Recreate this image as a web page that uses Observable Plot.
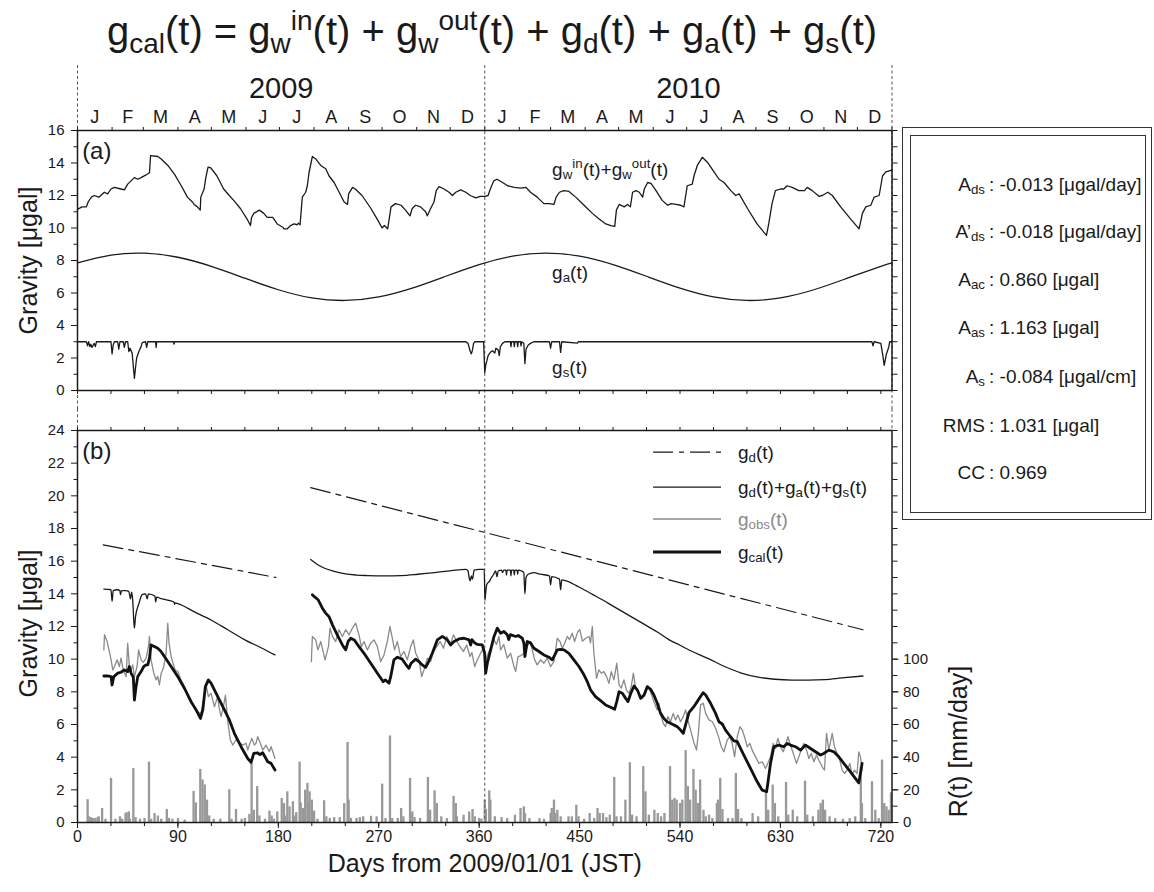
<!DOCTYPE html>
<html><head><meta charset="utf-8">
<script src="https://cdn.jsdelivr.net/npm/d3@7"></script>
<script src="https://cdn.jsdelivr.net/npm/@observablehq/plot@0.6"></script>
<style>
body{margin:0;background:#fff;}
#root{position:relative;width:1154px;height:892px;font-family:"Liberation Sans",Arial,Helvetica,sans-serif;color:#1a1a1a;overflow:hidden;background:#fff;}
#root svg{position:absolute;left:0;}
.abs{position:absolute;white-space:nowrap;line-height:1;}
.sb{font-size:0.7em;vertical-align:-0.3em;line-height:0;}
.sp{font-size:0.7em;vertical-align:0.55em;line-height:0;}
</style></head><body><div id="root"></div>
<script>
// ---------------- DATA ----------------
const monthStarts = [0,31,59,90,120,151,181,212,243,273,304,334,365,396,424,455,485,516,546,577,608,638,669,699,730];
const monthLetters = ["J","F","M","A","M","J","J","A","S","O","N","D","J","F","M","A","M","J","J","A","S","O","N","D"];
const yearLabels = ["2009","2010"];
const yearMid = [182.5, 547.5];
const yearBounds = [0, 365, 730];

// Panel (a): g_w^in + g_w^out  [day, µgal]
const gwSeries = [[0,11.15],[4,11.3],[8,11.3],[9.5,11.6],[12.5,11.9],[15,12.0],[19,11.9],[21,12.0],[24,12.2],[27,12.1],[30,12.4],[33,12.5],[39,12.4],[42,12.35],[45,12.7],[48,12.9],[51,13.1],[54,13.0],[57,13.1],[61,13.25],[64.5,13.4],[65.5,14.45],[72,14.4],[75,14.25],[81,13.85],[87,13.3],[93,12.6],[98.5,11.9],[103,11.6],[104.5,11.45],[107.5,11.3],[110,11.1],[110.5,11.9],[113.5,12.4],[115,13.1],[117,13.75],[119.5,13.7],[125,13.2],[131,12.4],[136,12.0],[140,11.7],[146,11.2],[152,10.55],[155,10.15],[156,10.65],[158,10.9],[163,11.1],[167,10.9],[170,10.65],[175,10.65],[179,10.25],[184,10.05],[185,9.95],[188,9.95],[191,10.15],[194,10.25],[197,10.2],[198,10.3],[199.5,10.2],[200,10.65],[201.5,11.9],[204.5,12.2],[206,12.6],[207.5,13.4],[210.5,14.4],[213.5,14.25],[218,13.85],[222.5,13.65],[225.5,13.2],[230,12.8],[234.5,12.2],[239,11.6],[242,11.45],[243,12.1],[246.5,12.5],[249,12.4],[255,12.0],[263,11.2],[269,10.5],[273,10.0],[275,10.15],[278,9.95],[281,11.3],[285,11.5],[290,11.4],[294,11.1],[298,10.75],[300,11.2],[303,11.4],[307.5,11.3],[312,11.0],[313.5,10.75],[316.5,11.2],[319.5,11.6],[321.5,12.3],[324,12.55],[328.5,12.4],[333,12.2],[336,12.0],[339,12.2],[343.5,12.35],[348,12.2],[352,12.0],[357,11.85],[361,11.95],[365,11.95],[368,12.0],[370,12.4],[373,12.9],[376,13.0],[381,12.8],[385.5,12.6],[391.5,12.5],[397.5,12.45],[402,12.5],[406,12.2],[412,11.9],[418,11.5],[423,11.5],[427,11.45],[429,11.9],[432,12.2],[436,12.3],[440.5,12.25],[446.5,11.9],[454,11.4],[461.5,10.9],[467.5,10.55],[473.5,10.25],[478,10.15],[481.5,10.1],[483,11.1],[485.5,11.45],[490,11.3],[493,11.45],[495.5,11.3],[497.5,12.2],[500.5,12.3],[503.5,12.2],[506.5,11.9],[508,12.4],[511,12.8],[514,12.75],[518.5,12.3],[524,11.7],[529,11.4],[532,11.5],[536.5,11.45],[540.5,11.4],[543.5,11.3],[546.5,12.6],[551,12.7],[552.5,13.2],[555.5,13.85],[560,14.35],[564.5,14.05],[570.5,13.45],[575,13.0],[579.5,12.8],[585.5,12.3],[590,12.0],[593,12.1],[600.5,11.2],[609,10.25],[617.5,9.55],[619.5,10.25],[622.5,11.5],[625.5,12.3],[630,12.4],[633,12.4],[636,12.6],[640.5,12.5],[646.5,12.3],[651.5,12.3],[654,12.5],[658.5,12.3],[664.5,11.95],[667.5,12.0],[672.5,12.2],[676.5,12.0],[684,11.3],[693,10.55],[700.5,9.95],[703.5,10.9],[706.5,11.3],[711,11.4],[714,11.9],[718.5,12.0],[721.5,13.2],[724.5,13.45],[729,13.55],[730,13.6]];

// Panel (a): g_a(t)
const gaDays = [0,30,60,90,120,150,180,210,240,270,300,330,360,390,420,450,480,510,540,570,600,630,660,690,720,730];
const gaVals = [7.85,8.33,8.45,8.20,7.64,6.91,6.20,5.70,5.54,5.76,6.30,7.03,7.75,8.27,8.46,8.27,7.75,7.03,6.30,5.76,5.54,5.70,6.20,6.91,7.64,7.85];

// Panel (a): g_s(t)
const gsSeries = [[0,3],[8,3],[9,2.75],[10,3],[11,2.7],[12,2.85],[13,2.65],[15,2.9],[16,2.7],[17,3],[30,3],[31,2.25],[32,2.8],[33,3],[36,3],[37,2.55],[38,3],[41,3],[42,2.65],[43,3],[45,3],[46,2.4],[47,2.6],[49,2.3],[50,1.5],[51,0.75],[52,1.4],[53,2.0],[55,2.4],[57,2.7],[58,2.95],[61,3],[62,2.65],[63,3],[70,3],[70.5,2.65],[71,3],[86,3],[86.5,2.85],[87,3],[348,3],[350,2.9],[352,2.4],[353,2.25],[354,2.5],[355,2.9],[356,3],[364,3],[365,1.1],[366,1.6],[367,1.85],[368,2.15],[370,2.35],[372,2.45],[374,2.3],[375,2.6],[377,2.5],[378,2.15],[379,2.7],[381,2.9],[383,3],[388,3],[388.5,2.7],[389,3],[391,3],[391.5,2.7],[392,3],[394,3],[394.5,2.7],[395,3],[397,3],[397.5,2.75],[398,3],[400,2.9],[401,1.65],[402,2.55],[404,2.8],[406,2.9],[409,3],[423,3],[424,2.6],[425,3],[432,3],[433,2.35],[434,3],[448,2.92],[449,3],[712,3],[713,2.75],[714,3],[720,2.9],[722,2.05],[723,1.55],[724,1.9],[725,2.25],[727,2.65],[728,3],[730,3]];

// Panel (b): g_d(t), two segments
const gd1 = [[23,17.0],[178,15.0]];
const gd2 = [[209,20.5],[704,11.8]];

// Panel (b): g_d + g_a + g_s
const gdas1 = [[23.6,14.29],[30,14.25],[31,13.54],[32,14.2],[35.5,14.25],[38,14.2],[38.5,13.95],[39.5,14.2],[43,14.2],[46,14.15],[47.5,13.7],[48.5,14.1],[49.5,13.6],[50.5,12.3],[51,11.9],[52,12.6],[55,13.4],[58,13.95],[61,14.0],[62.5,13.7],[63.5,14.0],[69.5,13.85],[70,13.5],[71,13.8],[75,13.7],[86.5,13.5],[87,13.35],[87.5,13.45],[90,13.4],[104.8,12.9],[119.7,12.4],[134.7,11.8],[149.6,11.2],[164.5,10.7],[177,10.26]];
const gdas2 = [[209,16.1],[215,15.8],[222,15.55],[230,15.38],[240,15.22],[250,15.15],[260,15.12],[275,15.1],[290,15.12],[305,15.2],[320,15.3],[335,15.42],[348,15.5],[350,15.4],[351,15.0],[352,14.8],[353,15.1],[354,14.9],[355.5,15.45],[360,15.5],[364.5,15.5],[365.2,13.6],[366,14.2],[367,14.6],[369,14.75],[371,15.0],[373,15.2],[374.7,15.4],[376,15.05],[377,15.4],[380,15.45],[381,15.3],[382,15.45],[384,15.45],[384.5,15.15],[385,15.45],[388,15.45],[388.5,15.1],[389,15.45],[391,15.45],[391.5,15.15],[392,15.45],[394,15.45],[394.5,15.2],[395,15.45],[398,15.4],[400,15.3],[401,14.0],[402,15.0],[404,15.2],[409,15.3],[415,15.2],[423,15.1],[424,14.55],[425,15.05],[432,14.9],[433,14.25],[434,14.85],[440,14.75],[447,14.5],[454,14.25],[462,13.95],[470,13.65],[480,13.25],[490,12.85],[500,12.45],[510,12.05],[520,11.65],[530,11.2],[540,10.85],[550,10.5],[565,10.05],[580,9.55],[595,9.15],[610,8.9],[625,8.77],[640,8.72],[655,8.72],[670,8.75],[685,8.85],[704,8.97]];

// Panel (b): g_obs(t)
const gObs1 = [[23.6,10.57],[24.2,11.5],[26.5,11.1],[28.6,10.45],[30.1,9.96],[31.6,9.34],[33.5,9.6],[35.5,9.96],[37.5,9.55],[39,10.06],[41,9.34],[43.6,8.93],[45,10.98],[46.5,9.55],[48,9.34],[49.5,9.65],[51,8.93],[53.4,9.55],[54.8,10.57],[57,9.96],[59,9.8],[61.5,10.06],[63.6,10.77],[64.5,11.4],[65.9,9.96],[68.4,9.14],[70.4,8.73],[71.9,8.95],[73.4,8.42],[75,9.14],[77,9.44],[79.4,10.36],[80.9,12.2],[82,11.0],[83.9,10.16],[85.4,9.8],[87.5,9.34],[89.9,9.24],[92.8,8.73],[95.8,8.32],[98.8,7.71],[101.8,7.3],[104.8,7.09],[106.3,6.9],[109.3,6.68],[111.3,6.8],[113,7.5],[115.2,8.42],[117.3,7.71],[119.7,7.91],[122.7,7.09],[125.7,7.71],[127,7.0],[128.7,6.48],[130.8,7.09],[132.6,7.8],[134.7,6.17],[137,5.05],[139.1,4.74],[142,5.05],[145,4.9],[148,4.74],[151,4.85],[152.6,4.43],[154,4.74],[156.2,5.15],[158.5,4.74],[160,4.85],[161.5,5.25],[163.9,4.85],[166,4.43],[169,4.74],[171.9,4.33],[173.5,4.64],[175,4.33],[177,3.92]];
const gObs2 = [[209.6,9.85],[210.5,11.39],[213.5,11.18],[215.5,10.57],[218,11.08],[221.9,9.96],[224.9,10.77],[226.3,11.9],[228.5,11.39],[231.4,11.08],[234.4,11.8],[237.4,11.39],[240.4,11.8],[243.4,11.49],[246.4,11.9],[249.3,12.2],[252.3,11.49],[254.4,10.77],[256.8,11.08],[259.8,10.57],[262.8,10.98],[265.8,11.18],[268.8,10.77],[271.7,9.85],[274.7,10.26],[277.7,11.08],[280,12.0],[282.2,11.28],[284.2,10.57],[286.7,11.08],[289.6,10.16],[292.6,10.47],[295.6,9.96],[298.6,10.77],[301,11.18],[303.1,10.36],[306,9.96],[308.5,8.93],[310.5,9.34],[313.6,10.06],[316.5,9.85],[319,10.47],[322,10.77],[325,11.08],[328,10.67],[331,11.39],[334,10.87],[337,11.49],[340,11.08],[342.8,10.77],[345.8,10.47],[348.8,10.87],[351.8,10.16],[353.5,10.4],[356,9.55],[358.4,9.96],[361.3,10.36],[364.3,10.77],[365.8,9.96],[368.8,10.47],[370.3,10.67],[373.3,11.18],[375.5,10.9],[377.7,11.39],[379.2,10.57],[382,10.9],[385.2,10.06],[388.2,10.36],[391.2,9.55],[392.7,9.24],[394.8,10.16],[397,10.2],[400.1,10.36],[403.1,10.77],[405.5,11.08],[407.6,10.57],[409.7,9.96],[412,9.65],[415,9.96],[418,9.75],[421,10.06],[424,9.55],[427,9.85],[430,11.28],[432.4,11.08],[434.5,10.67],[436.6,10.98],[439,11.39],[441,11.2],[443.4,11.59],[445.5,11.08],[448.5,11.7],[450.3,11.8],[452.5,11.1],[455.4,11.28],[458.4,11.39],[459.8,11.0],[461.4,12.0],[462.8,10.36],[465.2,8.83],[467.3,9.34],[469.4,9.14],[471.8,9.24],[474.2,8.93],[476.3,8.52],[478.4,9.24],[480.8,8.73],[483.3,9.75],[485.4,8.42],[487.3,8.22],[489.7,8.73],[492,8.11],[494.2,7.91],[496.3,8.32],[498.2,9.14],[500.2,8.22],[503.2,7.91],[506.2,7.6],[509.1,7.91],[511.2,8.32],[513.6,8.01],[516.6,7.4],[519.6,6.89],[521.1,7.3],[523.2,6.48],[525,6.07],[527,5.87],[529.1,6.48],[531.5,6.17],[533.9,6.68],[536,6.28],[538.1,6.58],[540.5,6.17],[542.9,6.48],[545,6.89],[547,6.28],[549.5,5.66],[552.4,4.9],[554.8,4.43],[556.5,5.5],[558.4,7.2],[560.8,7.3],[563,6.68],[566,6.28],[569,6.17],[572,5.76],[575,5.15],[577,4.64],[579.3,4.33],[582.3,5.05],[584.7,5.25],[586.8,4.84],[588.9,4.02],[591.3,5.25],[593.7,5.87],[595.8,5.66],[597.8,5.25],[600.3,4.64],[602.6,4.84],[604.7,4.43],[607.7,4.02],[610.7,3.62],[613.7,3.72],[616.6,3.31],[618.7,3.62],[621.1,4.02],[623.5,4.84],[625.6,4.53],[627.7,5.15],[630.1,4.64],[632.5,4.33],[634.6,4.74],[636.7,5.25],[639,4.74],[642,4.13],[644.4,3.62],[646.5,4.02],[648.6,4.43],[651,4.84],[653.4,4.43],[655.5,3.92],[657.6,4.23],[660,3.72],[662.4,4.13],[664.4,3.82],[667.4,3.41],[669.5,3.21],[671.3,5.46],[673.4,4.43],[676.4,5.46],[678.4,4.64],[680.8,4.23],[683.2,3.82],[685.3,3.21],[687.4,3.0],[689.8,3.21],[692.2,3.62],[694.2,2.9],[696.3,3.21],[698.7,3.0],[700.2,4.33],[701.7,4.02],[703.2,3.21]];

// Panel (b): g_cal(t)
const gCal1 = [[23.6,8.97],[27,8.97],[30.1,8.93],[31,8.42],[32.5,8.93],[36,9.14],[39,9.2],[42,9.34],[45,9.24],[46.5,9.55],[48,9.14],[50,8.9],[51,7.5],[52.5,8.32],[54,8.93],[57,9.24],[59.4,9.55],[61.5,9.65],[63,9.65],[64.5,10.06],[65.9,10.87],[68.9,10.77],[71.9,10.67],[74.9,10.47],[77.9,10.16],[83.9,9.55],[89.9,8.93],[95.8,8.22],[101.8,7.4],[106.3,6.89],[110.2,6.37],[112.3,6.89],[114.6,8.32],[117.3,8.73],[119.7,8.53],[125.7,7.71],[131.7,6.89],[136.1,6.28],[140.6,5.46],[146.6,4.64],[152.6,3.92],[155.6,3.68],[158,4.23],[161.5,4.27],[163.5,4.15],[166,4.27],[170.5,3.72],[173.5,3.62],[177,3.21]];
const gCal2 = [[210.5,13.94],[212,13.84],[215.6,13.64],[219.5,13.12],[222.4,12.82],[225.5,12.6],[228.5,12.1],[231.4,11.69],[234.4,11.28],[237.4,10.87],[240.4,10.57],[242.5,11.08],[245,11.28],[248,11.18],[252.3,10.77],[256.8,10.36],[262.8,9.75],[268.8,9.14],[274,8.62],[276,8.73],[279.2,8.53],[280.7,8.93],[283.6,9.96],[286.7,10.12],[291,10.0],[294,9.7],[297,9.44],[299,9.75],[303.1,10.0],[306,9.85],[309,9.65],[312,9.5],[314,9.75],[318,10.36],[322.5,11.18],[327,11.39],[331.5,11.18],[334.4,10.87],[337.4,11.08],[341.9,11.24],[346.4,11.28],[350.9,11.18],[352.4,10.87],[353.5,11.2],[356,11.0],[358.4,10.9],[362.8,10.87],[364.9,10.36],[365.8,9.14],[367.3,9.75],[370.3,10.57],[373.3,11.39],[376.2,11.9],[379.2,11.59],[382.2,11.7],[385.2,11.49],[386.5,11.2],[388,11.5],[392.7,11.39],[395,11.45],[398.6,11.28],[400.1,10.98],[401,10.16],[403.1,11.08],[406,11.0],[409.1,10.67],[413.6,10.47],[418,10.26],[422.5,10.12],[425.5,9.96],[428,10.3],[430,10.57],[433,10.6],[436,10.57],[440.4,10.36],[444.9,9.96],[449.4,9.55],[453.9,9.04],[456.9,8.62],[459.9,8.11],[464.3,7.71],[468.8,7.46],[473.3,7.2],[477.8,7.05],[481.4,6.93],[483.3,7.4],[485.4,8.01],[488.3,7.91],[491.3,7.6],[493.4,7.4],[495.9,7.91],[498.8,8.36],[501.8,8.11],[504.8,7.6],[507.8,7.81],[510.7,8.32],[513.6,8.16],[516.6,7.81],[519.6,7.3],[522.6,6.68],[525.6,6.37],[528.5,6.17],[531.5,6.07],[534.5,5.97],[537.5,5.87],[540.5,5.66],[542.9,5.46],[545,5.97],[548,6.72],[552.4,7.09],[555.4,7.4],[558.4,7.71],[560.8,7.95],[563,7.81],[567.4,7.3],[571.9,6.68],[574.9,6.17],[577.9,6.03],[580.8,5.66],[585.3,5.25],[588.3,5.0],[591.3,4.95],[597.2,4.13],[603.2,3.31],[609.2,2.49],[613.7,1.98],[617.6,1.88],[618.7,2.39],[621.1,3.62],[624.1,4.64],[628.6,4.74],[633,4.64],[636,4.84],[639,4.74],[643.5,4.64],[648,4.43],[652.5,4.74],[657,4.53],[661.4,4.33],[665.9,4.13],[668.9,4.23],[673.4,4.43],[677.8,4.33],[682.3,4.02],[686.8,3.62],[692.8,3.1],[697.3,2.69],[700.2,2.43],[701.7,3.0],[703.2,3.62]];

// Panel (b): daily rainfall R(t) [day, mm/day]
const rain = [[9,14],[10,3.5],[12,3],[14,2.5],[16,2.5],[18,3],[19,3.5],[22,8.6],[25,2],[30,27],[34,2],[38,3.5],[40,2],[43,5.5],[44,6],[46,6.5],[47,2],[50,33],[52,3],[56,2],[60,2.5],[64,37],[66,2],[69,5.5],[72,4],[75,2],[80,8],[82,2.5],[85,2],[90,2.5],[96,1.5],[104,19],[106,12],[110,32.5],[112,26],[114,23],[116,13.7],[118,4],[122,2],[128,2],[136,20],[138,2],[142,8],[147,2],[150,2.5],[154,5],[156,36],[158,7.5],[161,22],[163,4],[168,2],[172,7],[174,4],[176,2],[179,6.5],[183,14.7],[185,11.6],[186,4],[188,18.8],[190,9.6],[193,12.7],[194,4],[196,6],[199,37],[200,12],[202,8.6],[204,19.8],[206,24],[207,12],[208,18.8],[210,13.7],[212,7],[215,2],[221,13.3],[223,3.5],[226,2.5],[230,3],[235,3],[239,11.6],[242,49],[243,13.7],[245,2.5],[250,2.5],[253,3],[256,3.5],[263,3.8],[268,3.5],[273,23.5],[276,2.5],[280,53],[282,2.4],[287,2.5],[290,8.6],[292,3.5],[298,27],[300,6.5],[302,3],[307,2.5],[314,27.6],[316,7.5],[320,19.4],[322,11.6],[326,3.5],[331,2.4],[337,16],[339,11.6],[340,3.5],[346,4.5],[351,6.5],[354,8],[356,3.5],[360,2.5],[362,2],[365,13.7],[366,8],[369,19.4],[370,13.7],[374,3.5],[380,3],[385,2.4],[392,4.5],[397,8.6],[400,9.6],[401,5.5],[405,2.4],[414,2.4],[418,2],[424,5.5],[425,8.6],[427,13.7],[428,5.5],[430,7.5],[433,3.5],[440,3.5],[443,3.5],[447,10.6],[449,3.5],[454,2],[459,5.5],[463,2.5],[466,8.6],[468,5.5],[471,5.5],[474,3],[477,4.5],[481,27.6],[483,3.5],[487,3.5],[491,13.7],[495,36.6],[497,4.5],[501,3.5],[507,34.2],[509,18.8],[512,4.5],[517,7.5],[520,5.5],[523,3.5],[526,5.5],[531,34.2],[533,13.7],[535,14.7],[537,13.7],[540,11.6],[542,13.7],[545,44],[547,22],[549,13.7],[552,32.5],[554,19.8],[556,11.6],[558,26],[561,7.5],[563,3.5],[566,4.5],[569,2.4],[573,11.6],[574,13.7],[576,27],[578,8],[583,2.4],[587,2.4],[590,30],[592,8],[595,2.4],[605,5.5],[610,3.5],[617,18.2],[619,7.5],[623,22.9],[625,11.6],[628,3.5],[635,24.5],[637,4.5],[641,7.5],[645,3.5],[652,25.3],[654,4.5],[659,3.5],[664,7.5],[666,11.6],[668,13.7],[670,7.5],[674,3.5],[679,2.4],[686,2],[692,2.4],[697,3.5],[702,34],[703,11.6],[706,2.4],[712,25],[715,7.5],[718,2.4],[721,38.2],[723,11.6],[725,9.6],[727,7.5],[729,18.2]];

// Fit statistics box
const statLabels = ["A<span class='sb'>ds</span>","A’<span class='sb'>ds</span>","A<span class='sb'>ac</span>","A<span class='sb'>as</span>","A<span class='sb'>s</span>","RMS","CC"];
const statValues = ["-0.013 [μgal/day]","-0.018 [μgal/day]","0.860 [μgal]","1.163 [μgal]","-0.084 [μgal/cm]","1.031 [μgal]","0.969"];

// Legend entries
const legendLabels = ["g<span class='sb'>d</span>(t)","g<span class='sb'>d</span>(t)+g<span class='sb'>a</span>(t)+g<span class='sb'>s</span>(t)","g<span class='sb'>obs</span>(t)","g<span class='sb'>cal</span>(t)"];

// ---------------- CHART ----------------
const root = document.getElementById("root");
const FONT = '"Liberation Sans", Arial, Helvetica, sans-serif';
const W = 1154, ML = 77, MR = 262.5;
const INK = "#1a1a1a";
const px = d => d[0], py = d => d[1];
const monthMid = monthStarts.slice(0, -1).map((s, i) => (s + monthStarts[i + 1]) / 2);
const gaSeries = gaDays.map((d, i) => [d, gaVals[i]]);
const blank = () => "";

const plotA = Plot.plot({
  width: W, height: 410,
  marginLeft: ML, marginRight: MR, marginTop: 130, marginBottom: 20,
  x: {domain: [0, 730]}, y: {domain: [0, 16]},
  style: {fontFamily: FONT, fontSize: "15px", color: INK, background: "transparent", overflow: "visible"},
  marks: [
    Plot.ruleX(yearBounds, {y1: 20, y2: -1.25, stroke: "#555", strokeDasharray: "3,2.5", strokeWidth: 1}),
    Plot.line(gwSeries, {x: px, y: py, stroke: INK, strokeWidth: 1.3}),
    Plot.line(gaSeries, {x: px, y: py, stroke: INK, strokeWidth: 1.3, curve: "natural"}),
    Plot.line(gsSeries, {x: px, y: py, stroke: INK, strokeWidth: 1.3}),
    Plot.axisY({ticks: d3.range(0, 17, 2), tickSize: 6, tickPadding: 7, fontSize: 15, label: null}),
    Plot.axisY({ticks: d3.range(1, 16, 2), tickSize: 3.5, tickFormat: blank, label: null}),
    Plot.axisY({anchor: "right", ticks: d3.range(0, 17, 1), tickSize: 5, tickFormat: blank, label: null}),
    Plot.axisX({anchor: "top", ticks: monthStarts, tickSize: 4, tickFormat: blank, label: null}),
    Plot.axisX({anchor: "bottom", ticks: d3.range(0, 731, 30), tickSize: 4, tickFormat: blank, label: null}),
    Plot.text(monthLetters, {x: (d, i) => monthMid[i], y: () => 16, dy: -13, text: d => d, fontSize: 18, fill: INK}),
    Plot.text(yearLabels, {x: (d, i) => yearMid[i], y: () => 16, dy: -42, text: d => d, fontSize: 29, fill: INK}),
    Plot.text(["Gravity [μgal]"], {frameAnchor: "left", dx: -49, rotate: -90, textAnchor: "middle", text: d => d, fontSize: 25, fill: INK}),
    Plot.frame({stroke: INK, strokeWidth: 1.5})
  ]
});
plotA.style.top = "0px";
root.appendChild(plotA);

const plotB = Plot.plot({
  width: W, height: 482,
  marginLeft: ML, marginRight: MR, marginTop: 20, marginBottom: 70,
  x: {domain: [0, 730]}, y: {domain: [0, 24]},
  style: {fontFamily: FONT, fontSize: "15px", color: INK, background: "transparent", overflow: "visible"},
  marks: [
    Plot.rect(rain, {x1: d => d[0], x2: d => d[0] + 1, y1: 0, y2: d => d[1] / 10, fill: "#999", insetLeft: -0.6, insetRight: -0.6}),
    Plot.ruleX([365], {y1: 25.3, y2: 0, stroke: "#555", strokeDasharray: "3,2.5", strokeWidth: 1}),
    Plot.ruleX([0, 730], {y1: 25.3, y2: 24, stroke: "#555", strokeDasharray: "3,2.5", strokeWidth: 1}),
    Plot.line(gd1, {x: px, y: py, stroke: INK, strokeWidth: 1.2, strokeDasharray: "20,6,5,6"}),
    Plot.line(gd2, {x: px, y: py, stroke: INK, strokeWidth: 1.2, strokeDasharray: "20,6,5,6"}),
    Plot.line(gdas1, {x: px, y: py, stroke: INK, strokeWidth: 1.3, curve: "monotone-x"}),
    Plot.line(gdas2, {x: px, y: py, stroke: INK, strokeWidth: 1.3, curve: "monotone-x"}),
    Plot.line(gObs1, {x: px, y: py, stroke: "#8a8a8a", strokeWidth: 1.3}),
    Plot.line(gObs2, {x: px, y: py, stroke: "#8a8a8a", strokeWidth: 1.3}),
    Plot.line(gCal1, {x: px, y: py, stroke: "#111", strokeWidth: 2.8}),
    Plot.line(gCal2, {x: px, y: py, stroke: "#111", strokeWidth: 2.8}),
    Plot.axisY({ticks: d3.range(0, 25, 2), tickSize: 6, tickPadding: 7, fontSize: 15, label: null}),
    Plot.axisY({ticks: d3.range(1, 24, 2), tickSize: 3.5, tickFormat: blank, label: null}),
    Plot.axisY({anchor: "right", ticks: d3.range(0, 25, 1), tickSize: 5, tickFormat: blank, label: null}),
    Plot.axisY({anchor: "right", ticks: d3.range(0, 11, 2), tickSize: 6, tickPadding: 5, tickFormat: d => d * 10, fontSize: 15, label: null}),
    Plot.axisX({anchor: "bottom", ticks: d3.range(0, 721, 90), tickSize: 6, tickPadding: 2, fontSize: 16, label: null}),
    Plot.axisX({anchor: "bottom", ticks: d3.range(30, 731, 30), tickSize: 4, tickFormat: blank, label: null}),
    Plot.axisX({anchor: "top", ticks: d3.range(0, 731, 30), tickSize: 4, tickFormat: blank, label: null}),
    Plot.text(["Days from 2009/01/01 (JST)"], {frameAnchor: "bottom", dy: 49, text: d => d, fontSize: 25, fill: INK}),
    Plot.text(["Gravity [μgal]"], {frameAnchor: "left", dx: -49, dy: -3, rotate: -90, textAnchor: "middle", text: d => d, fontSize: 25, fill: INK}),
    Plot.text(["R(t) [mm/day]"], {frameAnchor: "right", dx: 67, dy: 115, rotate: -90, textAnchor: "middle", text: d => d, fontSize: 25, fill: INK}),
    Plot.frame({stroke: INK, strokeWidth: 1.5})
  ]
});
plotB.style.top = "410px";
root.appendChild(plotB);

// scale helpers from the plots
function lin(plot, name, offset) {
  const s = plot.scale(name);
  const f = d3.scaleLinear(s.domain, s.range);
  return v => f(v) + (offset || 0);
}
const xA = lin(plotA, "x"), yA = lin(plotA, "y", 0);
const xB = lin(plotB, "x"), yB = lin(plotB, "y", 410);

function label(html, x, y, size, opts = {}) {
  const el = document.createElement("div");
  el.className = "abs";
  el.innerHTML = html;
  el.style.left = x + "px";
  el.style.top = y + "px";
  el.style.fontSize = size + "px";
  el.style.transform = opts.transform || "translate(0,-50%)";
  if (opts.color) el.style.color = opts.color;
  root.appendChild(el);
  return el;
}

// title
label("g<span class='sb'>cal</span>(t) = g<span class='sb'>w</span><span class='sp'>in</span>(t) + g<span class='sb'>w</span><span class='sp'>out</span>(t) + g<span class='sb'>d</span>(t) + g<span class='sb'>a</span>(t) + g<span class='sb'>s</span>(t)",
  492, 31, 40, {transform: "translate(-50%,-50%)"});

// panel labels
label("(a)", xA(4.6), yA(14.7), 24);
label("(b)", xB(4.6), yB(22.73), 24);
label("g<span class='sb'>w</span><span class='sp'>in</span>(t)+g<span class='sb'>w</span><span class='sp'>out</span>(t)", xA(425.8), yA(13.6), 19);
label("g<span class='sb'>a</span>(t)", xA(425.8), yA(7.26), 19);
label("g<span class='sb'>s</span>(t)", xA(425.8), yA(1.4), 19);

// legend (panel b)
const legY = [22.65, 20.5, 18.55, 16.53];
const legStyles = [
  {stroke: INK, width: 1.2, dash: "20,6,5,6"},
  {stroke: INK, width: 1.3, dash: null},
  {stroke: "#8a8a8a", width: 1.3, dash: null},
  {stroke: "#111", width: 3, dash: null}
];
const ns = "http://www.w3.org/2000/svg";
const legSvg = document.createElementNS(ns, "svg");
legSvg.setAttribute("width", W); legSvg.setAttribute("height", 892);
legSvg.style.position = "absolute"; legSvg.style.left = "0"; legSvg.style.top = "0"; legSvg.style.pointerEvents = "none";
legY.forEach((v, i) => {
  const ln = document.createElementNS(ns, "line");
  ln.setAttribute("x1", xB(516.3)); ln.setAttribute("x2", xB(577.2));
  ln.setAttribute("y1", yB(v)); ln.setAttribute("y2", yB(v));
  ln.setAttribute("stroke", legStyles[i].stroke);
  ln.setAttribute("stroke-width", legStyles[i].width);
  if (legStyles[i].dash) ln.setAttribute("stroke-dasharray", legStyles[i].dash);
  legSvg.appendChild(ln);
  label(legendLabels[i], xB(592.4), yB(v), 19, {color: i === 2 ? "#8a8a8a" : INK});
});
root.appendChild(legSvg);

// statistics box
const box = document.createElement("div");
box.style.cssText = "position:absolute;left:902px;top:127px;width:250px;height:393px;border:1.5px solid #333;box-sizing:border-box;";
const inner = document.createElement("div");
inner.style.cssText = "position:absolute;left:7px;top:7px;right:5px;bottom:6px;border:1.5px solid #333;";
box.appendChild(inner);
root.appendChild(box);
const rowY = [184, 231, 279, 327, 376, 425, 472];
statLabels.forEach((t, i) => {
  label(t, 985, rowY[i], 19, {transform: "translate(-100%,-50%)"});
  label(": " + statValues[i], 989, rowY[i], 19);
});
</script></body></html>
